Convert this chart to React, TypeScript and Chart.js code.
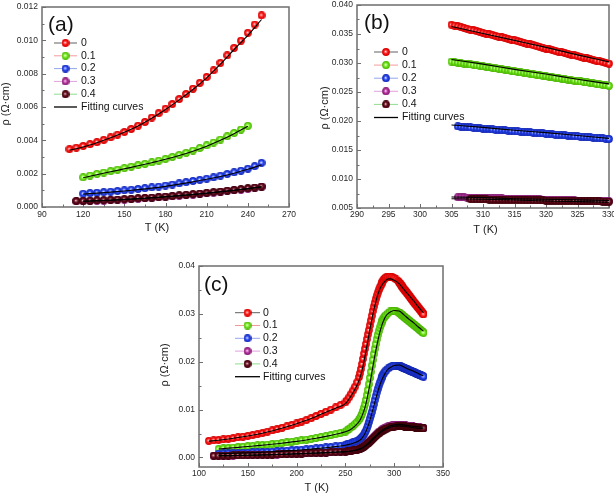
import React, { useEffect, useRef } from 'react';
import { Chart, registerables } from 'chart.js';
Chart.register(...registerables);

const FONT = "'Liberation Sans', Arial, Helvetica, sans-serif";

const SERIES_NAMES = ['0', '0.1', '0.2', '0.3', '0.4'];
const FIT_NAME = 'Fitting curves';
const X_TITLE = 'T (K)';
const Y_TITLE = 'ρ (Ω·cm)';

// Temperature grids (K)
const T_LOW = [110, 115, 120, 125, 130, 135, 140, 145, 150, 155, 160, 165, 170, 175, 180, 185, 190, 195, 200, 205, 210, 215, 220, 225, 230, 235, 240, 245, 250];
const T_MID = [252, 254, 256, 258, 260, 262, 264, 265, 266, 267, 268, 269, 270, 271, 272, 273, 274, 275, 276, 277, 278, 279, 280, 281, 282, 283, 284, 285, 286, 287, 288, 289, 290, 291, 292, 294, 296, 298, 300, 302, 304];
const T_HIGH = [305, 305.5, 306, 306.5, 307, 307.5, 308, 308.5, 309, 309.5, 310, 310.5, 311, 311.5, 312, 312.5, 313, 313.5, 314, 314.5, 315, 315.5, 316, 316.5, 317, 317.5, 318, 318.5, 319, 319.5, 320, 320.5, 321, 321.5, 322, 322.5, 323, 323.5, 324, 324.5, 325, 325.5, 326, 326.5, 327, 327.5, 328, 328.5, 329, 329.5, 330];

// x = 0
const R0_LOW = [0.00347, 0.00356, 0.00366, 0.00377, 0.00389, 0.00403, 0.00418, 0.00434, 0.00450, 0.00468, 0.00488, 0.00510, 0.00537, 0.00563, 0.00590, 0.00618, 0.00648, 0.00678, 0.00710, 0.00745, 0.00780, 0.00820, 0.00865, 0.00910, 0.00955, 0.00998, 0.01045, 0.01095, 0.01150];
const R0_MID = [0.0120, 0.0126, 0.0133, 0.0140, 0.0148, 0.0157, 0.0168, 0.0176, 0.0185, 0.0195, 0.0206, 0.0217, 0.0227, 0.0237, 0.0247, 0.0257, 0.0266, 0.0276, 0.0286, 0.0296, 0.0306, 0.0315, 0.0323, 0.0331, 0.0338, 0.0344, 0.0350, 0.0355, 0.0359, 0.0363, 0.0367, 0.0370, 0.0373, 0.0375, 0.0377, 0.0378, 0.0378, 0.0377, 0.0375, 0.0372, 0.0369];
const R0_HIGH = [0.03660, 0.03646, 0.03632, 0.03618, 0.03604, 0.03590, 0.03576, 0.03562, 0.03548, 0.03534, 0.03520, 0.03507, 0.03494, 0.03481, 0.03468, 0.03455, 0.03442, 0.03429, 0.03416, 0.03403, 0.03390, 0.03376, 0.03362, 0.03348, 0.03334, 0.03320, 0.03306, 0.03292, 0.03278, 0.03264, 0.03250, 0.03237, 0.03224, 0.03211, 0.03198, 0.03185, 0.03172, 0.03159, 0.03146, 0.03133, 0.03120, 0.03107, 0.03094, 0.03081, 0.03068, 0.03055, 0.03042, 0.03029, 0.03016, 0.03003, 0.02990];

// x = 0.1
const R1_LOW = [null, null, 0.00178, 0.00189, 0.00199, 0.00207, 0.00215, 0.00224, 0.00233, 0.00242, 0.00251, 0.00259, 0.00268, 0.00278, 0.00289, 0.00300, 0.00312, 0.00325, 0.00339, 0.00354, 0.00370, 0.00387, 0.00405, 0.00424, 0.00444, 0.00465, 0.00487, 0.00512, 0.00540];
const R1_MID = [0.0057, 0.0060, 0.0063, 0.0066, 0.0070, 0.0074, 0.0079, 0.0082, 0.0086, 0.0091, 0.0097, 0.0104, 0.0111, 0.0120, 0.0130, 0.0141, 0.0153, 0.0166, 0.0179, 0.0192, 0.0204, 0.0216, 0.0227, 0.0237, 0.0247, 0.0256, 0.0264, 0.0271, 0.0277, 0.0282, 0.0286, 0.0290, 0.0293, 0.0296, 0.0298, 0.0302, 0.0305, 0.0306, 0.0306, 0.0305, 0.0303];
const R1_HIGH = [0.03025, 0.03017, 0.03008, 0.03000, 0.02991, 0.02983, 0.02975, 0.02966, 0.02958, 0.02950, 0.02941, 0.02933, 0.02924, 0.02916, 0.02908, 0.02899, 0.02891, 0.02883, 0.02874, 0.02866, 0.02857, 0.02849, 0.02841, 0.02832, 0.02824, 0.02816, 0.02807, 0.02799, 0.02790, 0.02782, 0.02774, 0.02765, 0.02757, 0.02749, 0.02740, 0.02732, 0.02723, 0.02715, 0.02707, 0.02698, 0.02690, 0.02682, 0.02673, 0.02665, 0.02656, 0.02648, 0.02640, 0.02631, 0.02623, 0.02615, 0.02606];

// x = 0.2
const R2_LOW = [null, null, 0.00080, 0.00083, 0.00086, 0.00089, 0.00092, 0.00096, 0.00100, 0.00104, 0.00108, 0.00113, 0.00118, 0.00123, 0.00129, 0.00135, 0.00142, 0.00149, 0.00156, 0.00163, 0.00170, 0.00178, 0.00188, 0.00198, 0.00208, 0.00218, 0.00230, 0.00245, 0.00265];
const R2_MID = [0.0028, 0.0029, 0.0030, 0.0032, 0.0033, 0.0035, 0.0037, 0.0038, 0.0040, 0.0042, 0.0045, 0.0048, 0.0052, 0.0056, 0.0061, 0.0067, 0.0074, 0.0081, 0.0088, 0.0095, 0.0103, 0.0111, 0.0120, 0.0128, 0.0136, 0.0143, 0.0150, 0.0156, 0.0161, 0.0166, 0.0170, 0.0174, 0.0177, 0.0180, 0.0182, 0.0186, 0.0189, 0.0191, 0.0192, 0.0192, 0.0192];
const R2_HIGH = [0.01915, 0.01911, 0.01906, 0.01902, 0.01897, 0.01893, 0.01888, 0.01884, 0.01879, 0.01875, 0.01870, 0.01866, 0.01861, 0.01857, 0.01852, 0.01848, 0.01843, 0.01839, 0.01834, 0.01830, 0.01825, 0.01821, 0.01816, 0.01812, 0.01807, 0.01803, 0.01798, 0.01794, 0.01789, 0.01785, 0.01780, 0.01776, 0.01771, 0.01767, 0.01762, 0.01758, 0.01753, 0.01749, 0.01744, 0.01740, 0.01735, 0.01731, 0.01726, 0.01722, 0.01717, 0.01713, 0.01708, 0.01704, 0.01699, 0.01695, 0.01690];

// x = 0.3
const R3_LOW = [null, 0.00034, 0.00035, 0.00036, 0.00038, 0.00039, 0.00041, 0.00043, 0.00045, 0.00047, 0.00050, 0.00052, 0.00055, 0.00058, 0.00061, 0.00064, 0.00068, 0.00071, 0.00075, 0.00079, 0.00083, 0.00087, 0.00091, 0.00096, 0.00100, 0.00105, 0.00110, 0.00115, 0.00121];
const R3_MID = [0.00126, 0.00132, 0.00138, 0.00146, 0.00154, 0.00164, 0.00176, 0.00184, 0.00193, 0.00204, 0.00217, 0.00232, 0.00248, 0.00265, 0.00283, 0.00302, 0.00322, 0.00342, 0.00363, 0.00384, 0.00405, 0.00426, 0.00446, 0.00466, 0.00485, 0.00504, 0.00522, 0.00539, 0.00555, 0.00570, 0.00584, 0.00597, 0.00609, 0.00620, 0.00630, 0.00647, 0.00660, 0.00670, 0.00677, 0.00682, 0.00686];
const R3_HIGH = [0.00688, 0.00687, 0.00685, 0.00684, 0.00682, 0.00681, 0.00679, 0.00678, 0.00676, 0.00675, 0.00673, 0.00672, 0.00670, 0.00669, 0.00667, 0.00666, 0.00665, 0.00663, 0.00662, 0.00660, 0.00659, 0.00657, 0.00656, 0.00654, 0.00653, 0.00651, 0.00650, 0.00648, 0.00647, 0.00645, 0.00644, 0.00642, 0.00641, 0.00640, 0.00638, 0.00637, 0.00635, 0.00634, 0.00632, 0.00631, 0.00629, 0.00628, 0.00626, 0.00625, 0.00623, 0.00622, 0.00620, 0.00619, 0.00618, 0.00616, 0.00615];

// x = 0.4
const R4_LOW = [null, 0.00036, 0.00037, 0.00038, 0.00040, 0.00041, 0.00043, 0.00045, 0.00047, 0.00049, 0.00052, 0.00054, 0.00057, 0.00060, 0.00063, 0.00066, 0.00070, 0.00073, 0.00077, 0.00081, 0.00085, 0.00089, 0.00093, 0.00098, 0.00102, 0.00107, 0.00112, 0.00117, 0.00123];
const R4_MID = [0.00128, 0.00134, 0.00140, 0.00147, 0.00155, 0.00164, 0.00175, 0.00182, 0.00190, 0.00200, 0.00212, 0.00226, 0.00241, 0.00257, 0.00274, 0.00292, 0.00311, 0.00330, 0.00350, 0.00370, 0.00390, 0.00410, 0.00430, 0.00449, 0.00467, 0.00485, 0.00502, 0.00518, 0.00533, 0.00547, 0.00560, 0.00572, 0.00583, 0.00593, 0.00602, 0.00617, 0.00629, 0.00638, 0.00645, 0.00650, 0.00654];
const R4_HIGH = [0.00658, 0.00657, 0.00656, 0.00655, 0.00654, 0.00653, 0.00652, 0.00651, 0.00650, 0.00649, 0.00648, 0.00647, 0.00646, 0.00645, 0.00644, 0.00643, 0.00642, 0.00641, 0.00641, 0.00640, 0.00639, 0.00638, 0.00637, 0.00636, 0.00635, 0.00634, 0.00633, 0.00632, 0.00631, 0.00630, 0.00629, 0.00628, 0.00627, 0.00626, 0.00625, 0.00624, 0.00623, 0.00622, 0.00621, 0.00620, 0.00619, 0.00618, 0.00617, 0.00616, 0.00616, 0.00615, 0.00614, 0.00613, 0.00612, 0.00611, 0.00610];

// Fitting curves
const T_FIT = [110, 120, 130, 140, 150, 160, 170, 180, 190, 200, 210, 220, 230, 240, 250, 255, 260, 264, 266, 268, 270, 272, 274, 276, 278, 280, 282, 284, 286, 288, 290, 292, 294, 296, 300, 305, 310, 315, 320, 325, 330];
const FIT0 = [0.00340, 0.00360, 0.00386, 0.00415, 0.00448, 0.00486, 0.00532, 0.00585, 0.00643, 0.00705, 0.00775, 0.00857, 0.00945, 0.01030, 0.01125, 0.0126, 0.0143, 0.0161, 0.0174, 0.0191, 0.0211, 0.0233, 0.0255, 0.0277, 0.0298, 0.0316, 0.0332, 0.0345, 0.0355, 0.0362, 0.0367, 0.0371, 0.0373, 0.0373, 0.0370, 0.0363, 0.0351, 0.0339, 0.0327, 0.0314, 0.0302];
const FIT1 = [null, 0.00175, 0.00194, 0.00211, 0.00229, 0.00247, 0.00266, 0.00286, 0.00309, 0.00335, 0.00365, 0.00400, 0.00440, 0.00484, 0.00535, 0.0058, 0.0066, 0.0075, 0.0082, 0.0092, 0.0104, 0.0121, 0.0141, 0.0164, 0.0188, 0.0211, 0.0232, 0.0251, 0.0267, 0.0280, 0.0290, 0.0297, 0.0301, 0.0304, 0.0307, 0.0306, 0.0298, 0.0289, 0.0281, 0.0272, 0.0264];
const FIT2 = [null, 0.00077, 0.00083, 0.00089, 0.00096, 0.00104, 0.00113, 0.00124, 0.00137, 0.00151, 0.00166, 0.00183, 0.00203, 0.00226, 0.00253, 0.0028, 0.0031, 0.0035, 0.0038, 0.0043, 0.0050, 0.0059, 0.0070, 0.0084, 0.0099, 0.0114, 0.0129, 0.0143, 0.0155, 0.0165, 0.0173, 0.0180, 0.0185, 0.0188, 0.0192, 0.0193, 0.0189, 0.0184, 0.0180, 0.0175, 0.0170];
const FIT3 = [null, 0.00034, 0.00037, 0.00040, 0.00044, 0.00049, 0.00054, 0.00060, 0.00067, 0.00074, 0.00082, 0.00090, 0.00099, 0.00109, 0.00120, 0.0013, 0.0015, 0.0017, 0.0019, 0.0021, 0.0024, 0.0027, 0.0031, 0.0035, 0.0039, 0.0043, 0.0047, 0.0051, 0.0054, 0.0057, 0.0060, 0.0062, 0.0064, 0.0066, 0.0068, 0.0069, 0.0068, 0.0066, 0.0065, 0.0064, 0.0063];
const FIT4 = [null, 0.00035, 0.00038, 0.00042, 0.00046, 0.00051, 0.00056, 0.00062, 0.00069, 0.00076, 0.00084, 0.00092, 0.00101, 0.00111, 0.00122, 0.0013, 0.0015, 0.0017, 0.0018, 0.0020, 0.0023, 0.0026, 0.0029, 0.0033, 0.0037, 0.0041, 0.0045, 0.0048, 0.0052, 0.0055, 0.0057, 0.0060, 0.0061, 0.0063, 0.0065, 0.0066, 0.0065, 0.0064, 0.0062, 0.0061, 0.0060];

// Temperature windows shown in each panel, per series
const A_RANGES = [[110, 250], [120, 240], [120, 250], [115, 250], [115, 250]];
const B_RANGES = [[305, 330], [305, 330], [306, 330], [306, 330], [308, 330]];
const B_FIT_RANGES = [[305, 330], [305, 330], [305, 330], [305, 330], [305, 330]];
const C_RANGES = [[100, 330], [100, 330], [100, 330], [100, 330], [100, 330]];

// Tick values
const A_X_TICKS = [90, 120, 150, 180, 210, 240, 270];
const A_Y_TICKS = [0, 0.002, 0.004, 0.006, 0.008, 0.010, 0.012];
const B_X_TICKS = [290, 295, 300, 305, 310, 315, 320, 325, 330];
const B_Y_TICKS = [0.005, 0.010, 0.015, 0.020, 0.025, 0.030, 0.035, 0.040];
const C_X_TICKS = [100, 150, 200, 250, 300, 350];
const C_Y_TICKS = [0, 0.01, 0.02, 0.03, 0.04];

const LOW = [R0_LOW, R1_LOW, R2_LOW, R3_LOW, R4_LOW];
const MID = [R0_MID, R1_MID, R2_MID, R3_MID, R4_MID];
const HIGH = [R0_HIGH, R1_HIGH, R2_HIGH, R3_HIGH, R4_HIGH];
const FITS = [FIT0, FIT1, FIT2, FIT3, FIT4];

const BALL_COLORS = [
  ['#ff1414', '#ff8a8a', '#d00000'],
  ['#6ee81a', '#c0ff90', '#48b000'],
  ['#2444f2', '#98a8ff', '#1426b0'],
  ['#b4309c', '#e49ad6', '#7e1a70'],
  ['#62081a', '#a86874', '#3c0008'],
];
const LEGEND_LINE = ['#606060', '#f29a9a', '#95a5e8', '#e0a0dc', '#90dc90'];

function makeBall(c: string[]) {
  const size = 8;
  const cv = document.createElement('canvas');
  cv.width = size; cv.height = size;
  const g = cv.getContext('2d')!;
  const cx = size / 2, cy = size / 2, r = 3.9;
  const grd = g.createRadialGradient(cx - 0.4, cy - 0.4, 0, cx, cy, r);
  grd.addColorStop(0, '#ffffff');
  grd.addColorStop(0.2, c[1]);
  grd.addColorStop(0.5, c[0]);
  grd.addColorStop(1, c[2]);
  g.fillStyle = grd;
  g.beginPath(); g.arc(cx, cy, r, 0, Math.PI * 2); g.fill();
  return cv;
}

function seriesPoints(i: number, range: number[]) {
  const pts: { x: number; y: number }[] = [];
  const push = (ts: number[], vs: (number | null)[]) => ts.forEach((t, k) => {
    const v = vs[k];
    if (v != null && t >= range[0] && t <= range[1]) pts.push({ x: t, y: v });
  });
  push(T_LOW, LOW[i]); push(T_MID, MID[i]); push(T_HIGH, HIGH[i]);
  return pts;
}
function fitPoints(i: number, range: number[]) {
  const pts: { x: number; y: number }[] = [];
  T_FIT.forEach((t, k) => {
    const v = FITS[i][k];
    if (v != null && t >= range[0] && t <= range[1]) pts.push({ x: t, y: v });
  });
  return pts;
}

const PANELS = [
  {
    key: 'a', left: 0, top: 0, w: 300, h: 240, plot: { l: 42, r: 289, t: 7, b: 207 },
    xMin: 90, xMax: 270, yMin: 0, yMax: 0.012, xTicks: A_X_TICKS, yTicks: A_Y_TICKS, yDec: 3, xPad: 3,
    ranges: A_RANGES, fitRanges: A_RANGES, label: '(a)', labelPos: [48, 31],
    legend: { x0: 54, x1: 77, tx: 81, y0: 43, dy: 12.8 },
    xTitle: [157, 228], yTitle: [6, 104],
  },
  {
    key: 'b', left: 300, top: 0, w: 314, h: 240, plot: { l: 57, r: 310, t: 5, b: 208 },
    xMin: 290, xMax: 330, yMin: 0.005, yMax: 0.040, xTicks: B_X_TICKS, yTicks: B_Y_TICKS, yDec: 3, xPad: 2,
    ranges: B_RANGES, fitRanges: B_FIT_RANGES, label: '(b)', labelPos: [64, 29],
    legend: { x0: 74, x1: 98, tx: 102, y0: 52, dy: 13.1 },
    xTitle: [185.5, 230], yTitle: [25, 108],
  },
  {
    key: 'c', left: 150, top: 240, w: 320, h: 258, plot: { l: 49, r: 293, t: 26, b: 227 },
    xMin: 100, xMax: 350, yMin: -0.002, yMax: 0.04, xTicks: C_X_TICKS, yTicks: C_Y_TICKS, yDec: 2, xPad: 2,
    ranges: C_RANGES, fitRanges: C_RANGES, label: '(c)', labelPos: [54, 51],
    legend: { x0: 85, x1: 110, tx: 113, y0: 72.7, dy: 12.8 },
    xTitle: [166.7, 248.3], yTitle: [14.7, 125],
  },
];

function makeDecor(p: any, balls: HTMLCanvasElement[]) {
  return {
    id: 'decor_' + p.key,
    beforeDatasetsDraw(chart: any) {
      const { ctx, chartArea: ca, scales } = chart;
      const xs = scales.x, ys = scales.y;
      ctx.save();
      ctx.strokeStyle = '#6e6e6e';
      ctx.lineWidth = 1.5;
      ctx.strokeRect(ca.left, ca.top, ca.right - ca.left, ca.bottom - ca.top);
      ctx.lineWidth = 1;
      ctx.beginPath();
      const xt = p.xTicks, yt = p.yTicks;
      xt.forEach((v: number, i: number) => {
        const px = Math.round(xs.getPixelForValue(v)) + 0.5;
        ctx.moveTo(px, ca.bottom); ctx.lineTo(px, ca.bottom - 4);
        if (i < xt.length - 1) {
          const m = Math.round(xs.getPixelForValue((v + xt[i + 1]) / 2)) + 0.5;
          ctx.moveTo(m, ca.bottom); ctx.lineTo(m, ca.bottom - 2.5);
        }
      });
      yt.forEach((v: number, i: number) => {
        const py = Math.round(ys.getPixelForValue(v)) + 0.5;
        ctx.moveTo(ca.left, py); ctx.lineTo(ca.left + 4, py);
        if (i < yt.length - 1) {
          const m = Math.round(ys.getPixelForValue((v + yt[i + 1]) / 2)) + 0.5;
          ctx.moveTo(ca.left, m); ctx.lineTo(ca.left + 2.5, m);
        }
      });
      ctx.stroke();
      ctx.restore();
    },
    afterDraw(chart: any) {
      const { ctx } = chart;
      ctx.save();
      const lg = p.legend;
      ctx.font = `10.5px ${FONT}`;
      ctx.textBaseline = 'middle';
      ctx.textAlign = 'left';
      SERIES_NAMES.forEach((name, i) => {
        const y = lg.y0 + i * lg.dy;
        ctx.strokeStyle = LEGEND_LINE[i];
        ctx.lineWidth = 1;
        ctx.beginPath(); ctx.moveTo(lg.x0, y); ctx.lineTo(lg.x1, y); ctx.stroke();
        ctx.drawImage(balls[i], (lg.x0 + lg.x1) / 2 - 4, y - 4);
        ctx.fillStyle = '#111';
        ctx.fillText(name, lg.tx, y);
      });
      const yf = lg.y0 + 5 * lg.dy;
      ctx.strokeStyle = '#000'; ctx.lineWidth = 1.3;
      ctx.beginPath(); ctx.moveTo(lg.x0, yf); ctx.lineTo(lg.x1, yf); ctx.stroke();
      ctx.fillStyle = '#111';
      ctx.fillText(FIT_NAME, lg.tx, yf);

      ctx.font = `21px ${FONT}`;
      ctx.textBaseline = 'alphabetic';
      ctx.fillText(p.label, p.labelPos[0], p.labelPos[1]);

      ctx.font = `11px ${FONT}`;
      ctx.fillStyle = '#222';
      ctx.textAlign = 'center';
      ctx.textBaseline = 'middle';
      ctx.fillText(X_TITLE, p.xTitle[0], p.xTitle[1]);
      ctx.translate(p.yTitle[0], p.yTitle[1]);
      ctx.rotate(-Math.PI / 2);
      ctx.fillText(Y_TITLE, 0, 0);
      ctx.restore();
    },
  };
}

function Panel({ p }: { p: any }) {
  const ref = useRef<HTMLCanvasElement>(null);
  useEffect(() => {
    const balls = BALL_COLORS.map(makeBall);
    const datasets: any[] = [];
    FITS.forEach((_, i) => {
      datasets.push({
        label: FIT_NAME + ' ' + SERIES_NAMES[i],
        data: fitPoints(i, p.fitRanges[i]),
        showLine: true,
        borderColor: '#000',
        borderWidth: 1.1,
        pointRadius: 0,
        cubicInterpolationMode: 'monotone',
        order: 0,
      });
    });
    SERIES_NAMES.forEach((name, i) => {
      datasets.push({
        label: name,
        data: seriesPoints(i, p.ranges[i]),
        showLine: false,
        pointStyle: balls[i],
        pointRadius: 3.9,
        backgroundColor: BALL_COLORS[i][0],
        borderColor: BALL_COLORS[i][0],
        order: 5 - i,
        clip: false,
      });
    });
    const tickFont = { family: FONT, size: 8.5 };
    const chart = new Chart(ref.current!, {
      type: 'scatter',
      data: { datasets },
      plugins: [makeDecor(p, balls)],
      options: {
        responsive: false,
        animation: false,
        devicePixelRatio: 1,
        events: [],
        layout: { padding: { left: 0, right: p.w - p.plot.r, top: p.plot.t, bottom: 0 } },
        plugins: { legend: { display: false }, tooltip: { enabled: false } },
        scales: {
          x: {
            type: 'linear', min: p.xMin, max: p.xMax,
            grid: { display: false, drawTicks: false },
            border: { display: false },
            afterBuildTicks: (s: any) => { s.ticks = p.xTicks.map((v: number) => ({ value: v })); },
            afterFit: (s: any) => { s.height = p.h - p.plot.b; s.paddingLeft = 0; s.paddingRight = 0; },
            ticks: {
              autoSkip: false, maxRotation: 0, padding: p.xPad, color: '#2a2a2a', font: tickFont,
              callback: (v: any) => String(v),
            },
          },
          y: {
            type: 'linear', min: p.yMin, max: p.yMax,
            grid: { display: false, drawTicks: false },
            border: { display: false },
            afterBuildTicks: (s: any) => { s.ticks = p.yTicks.map((v: number) => ({ value: v })); },
            afterFit: (s: any) => { s.width = p.plot.l; s.paddingTop = 0; s.paddingBottom = 0; },
            ticks: {
              autoSkip: false, padding: 4, color: '#2a2a2a', font: tickFont,
              callback: (v: any) => Number(v).toFixed(p.yDec),
            },
          },
        },
      } as any,
    });
    return () => chart.destroy();
  }, [p]);
  return (
    <canvas
      ref={ref}
      width={p.w}
      height={p.h}
      style={{ position: 'absolute', left: p.left, top: p.top, width: p.w, height: p.h }}
    />
  );
}

export default function App() {
  return (
    <div style={{ position: 'fixed', left: 0, top: 0, width: 614, height: 498, background: '#fff', overflow: 'hidden' }}>
      {PANELS.map((p) => <Panel key={p.key} p={p} />)}
    </div>
  );
}
